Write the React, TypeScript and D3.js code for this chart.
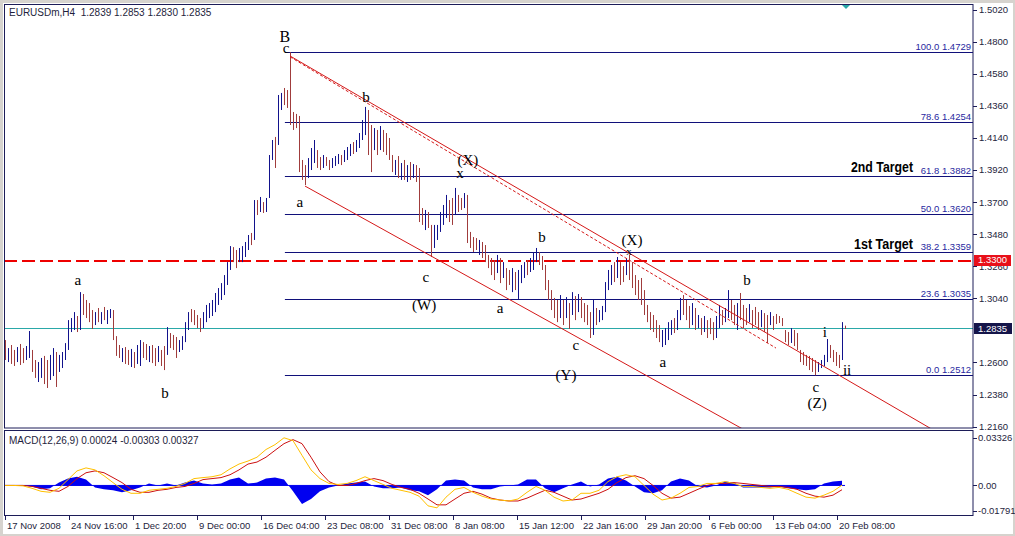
import * as d3 from 'd3'

// EURUSDm H4 bars (one entry per bar, left to right)
const highs = [
  1.2754, 1.2699, 1.2720, 1.2686, 1.2706, 1.2727, 1.2699, 1.2713, 1.2816, 1.2686,
  1.2617, 1.2603, 1.2631, 1.2645, 1.2617, 1.2652, 1.2699, 1.2672, 1.2652, 1.2672,
  1.2733, 1.2891, 1.2905, 1.2946, 1.2919, 1.3083, 1.3070, 1.3029, 1.3008, 1.2960,
  1.2946, 1.2974, 1.2946, 1.2981, 1.2960, 1.2967, 1.2960, 1.2781, 1.2720, 1.2699,
  1.2706, 1.2686, 1.2693, 1.2672, 1.2720, 1.2754, 1.2740, 1.2727, 1.2713, 1.2720,
  1.2699, 1.2713, 1.2686, 1.2713, 1.2843, 1.2802, 1.2789, 1.2775, 1.2754, 1.2781,
  1.2877, 1.2946, 1.2967, 1.2960, 1.2926, 1.2905, 1.2946, 1.2995, 1.3008, 1.3029,
  1.3077, 1.3111, 1.3145, 1.3200, 1.3289, 1.3399, 1.3392, 1.3372, 1.3386, 1.3399,
  1.3427, 1.3475, 1.3489, 1.3715, 1.3715, 1.3736, 1.3701, 1.3729, 1.4024, 1.4127,
  1.4148, 1.4436, 1.4450, 1.4484, 1.4470, 1.4729, 1.4319, 1.4306, 1.4292, 1.3990,
  1.3955, 1.4003, 1.4072, 1.4127, 1.4058, 1.4010, 1.4024, 1.4010, 1.3990, 1.4003,
  1.4017, 1.4031, 1.4024, 1.4058, 1.4079, 1.4100, 1.4113, 1.4127, 1.4175, 1.4264,
  1.4354, 1.4333, 1.4230, 1.4209, 1.4196, 1.4223, 1.4196, 1.4175, 1.4141, 1.4024,
  1.3990, 1.4017, 1.3969, 1.3990, 1.3955, 1.3976, 1.3962, 1.3955, 1.3935, 1.3660,
  1.3647, 1.3633, 1.3544, 1.3544, 1.3544, 1.3633, 1.3681, 1.3750, 1.3715, 1.3729,
  1.3798, 1.3750, 1.3729, 1.3763, 1.3750, 1.3496, 1.3461, 1.3454, 1.3441, 1.3427,
  1.3406, 1.3338, 1.3317, 1.3303, 1.3338, 1.3317, 1.3289, 1.3248, 1.3235, 1.3248,
  1.3221, 1.3235, 1.3269, 1.3289, 1.3303, 1.3317, 1.3358, 1.3386, 1.3358, 1.3331,
  1.3269, 1.3166, 1.3097, 1.3043, 1.3029, 1.3063, 1.3029, 1.3049, 1.3008, 1.3083,
  1.3056, 1.3070, 1.3049, 1.3008, 1.2995, 1.2946, 1.3029, 1.2974, 1.2960, 1.2988,
  1.3152, 1.3235, 1.3269, 1.3289, 1.3324, 1.3289, 1.3262, 1.3317, 1.3338, 1.3289,
  1.3200, 1.3166, 1.3180, 1.3097, 1.2995, 1.2946, 1.2926, 1.2891, 1.2857, 1.2823,
  1.2836, 1.2877, 1.2891, 1.2905, 1.2960, 1.3043, 1.3063, 1.3029, 1.2988, 1.3008,
  1.2974, 1.2926, 1.2905, 1.2919, 1.2891, 1.2905, 1.2877, 1.2919, 1.2995, 1.2960,
  1.2974, 1.3097, 1.3029, 1.2995, 1.3008, 1.3077, 1.2995, 1.2974, 1.3001, 1.2960,
  1.2981, 1.2946, 1.2960, 1.2939, 1.2926, 1.2946, 1.2919, 1.2933, 1.2919, 1.2905,
  1.2823, 1.2809, 1.2836, 1.2823, 1.2802, 1.2686, 1.2672, 1.2652, 1.2645, 1.2631,
  1.2617, 1.2603, 1.2617, 1.2652, 1.2761, 1.2720, 1.2686, 1.2672, 1.2652, 1.2877,
  1.2853,
]

const lows = [
  1.2617, 1.2603, 1.2590, 1.2576, 1.2603, 1.2583, 1.2596, 1.2617, 1.2631, 1.2535,
  1.2494, 1.2466, 1.2494, 1.2452, 1.2425, 1.2480, 1.2507, 1.2432, 1.2535, 1.2562,
  1.2617, 1.2686, 1.2809, 1.2823, 1.2809, 1.2823, 1.2926, 1.2905, 1.2877, 1.2830,
  1.2857, 1.2877, 1.2864, 1.2891, 1.2864, 1.2905, 1.2754, 1.2645, 1.2631, 1.2603,
  1.2590, 1.2583, 1.2569, 1.2562, 1.2590, 1.2576, 1.2631, 1.2617, 1.2603, 1.2596,
  1.2576, 1.2603, 1.2576, 1.2548, 1.2652, 1.2699, 1.2686, 1.2631, 1.2672, 1.2686,
  1.2740, 1.2823, 1.2877, 1.2857, 1.2836, 1.2809, 1.2836, 1.2877, 1.2905, 1.2919,
  1.2946, 1.2995, 1.3029, 1.3063, 1.3132, 1.3235, 1.3289, 1.3248, 1.3289, 1.3289,
  1.3324, 1.3372, 1.3406, 1.3441, 1.3612, 1.3633, 1.3626, 1.3633, 1.3729, 1.3990,
  1.3935, 1.4093, 1.4333, 1.4367, 1.4347, 1.4230, 1.4196, 1.4209, 1.3907, 1.3853,
  1.3818, 1.3866, 1.3921, 1.3969, 1.3935, 1.3921, 1.3935, 1.3949, 1.3921, 1.3935,
  1.3949, 1.3962, 1.3955, 1.3976, 1.3990, 1.4017, 1.4031, 1.4045, 1.4072, 1.4127,
  1.4161, 1.4024, 1.3907, 1.4058, 1.4024, 1.4058, 1.4045, 1.4024, 1.3990, 1.3907,
  1.3887, 1.3866, 1.3853, 1.3853, 1.3839, 1.3853, 1.3866, 1.3839, 1.3564, 1.3544,
  1.3509, 1.3523, 1.3324, 1.3386, 1.3441, 1.3496, 1.3544, 1.3592, 1.3564, 1.3544,
  1.3612, 1.3633, 1.3647, 1.3660, 1.3420, 1.3386, 1.3358, 1.3372, 1.3338, 1.3317,
  1.3289, 1.3248, 1.3200, 1.3166, 1.3214, 1.3145, 1.3180, 1.3097, 1.3132, 1.3083,
  1.3097, 1.3036, 1.3145, 1.3180, 1.3200, 1.3221, 1.3235, 1.3289, 1.3269, 1.3235,
  1.3097, 1.3029, 1.2960, 1.2905, 1.2877, 1.2905, 1.2857, 1.2905, 1.2830, 1.2926,
  1.2891, 1.2946, 1.2905, 1.2877, 1.2857, 1.2768, 1.2789, 1.2857, 1.2877, 1.2891,
  1.2946, 1.3097, 1.3132, 1.3152, 1.3180, 1.3132, 1.3152, 1.3200, 1.3166, 1.3111,
  1.3063, 1.3029, 1.2995, 1.2926, 1.2877, 1.2823, 1.2809, 1.2768, 1.2740, 1.2706,
  1.2720, 1.2754, 1.2789, 1.2802, 1.2823, 1.2891, 1.2926, 1.2891, 1.2836, 1.2857,
  1.2823, 1.2836, 1.2789, 1.2809, 1.2768, 1.2795, 1.2754, 1.2768, 1.2836, 1.2857,
  1.2877, 1.2905, 1.2891, 1.2857, 1.2823, 1.2891, 1.2836, 1.2857, 1.2877, 1.2836,
  1.2857, 1.2823, 1.2843, 1.2809, 1.2734, 1.2857, 1.2823, 1.2864, 1.2871, 1.2850,
  1.2740, 1.2720, 1.2734, 1.2713, 1.2686, 1.2603, 1.2583, 1.2576, 1.2548, 1.2535,
  1.2512, 1.2535, 1.2562, 1.2576, 1.2603, 1.2631, 1.2603, 1.2576, 1.2562, 1.2617,
  1.2830,
]

// u = bullish bar, d = bearish bar
const barDirs =
  'duddudduud' + 'duudduuduu' + 'uuuududddd' + 'ududuudddu' + 'dduduuddud' +
  'dudduddduu' + 'uudddduuuu' + 'uuuuuudduu' + 'uudududuuu' + 'duuddddddd' +
  'duuudduddu' + 'uuduuuduuu' + 'uddududddd' + 'ududududdd' + 'udduuuuudd' +
  'udduddddud' + 'ddddududdu' + 'duuuduuudd' + 'dddddududu' + 'dudddduduu' +
  'uuududdudd' + 'dddddddddu' + 'uuuduudddu' + 'dududdduud' + 'uuddudddud' +
  'dduddudddd' + 'dduddddddd' + 'duuuuddddu' + 'd'

// MACD(12,26,9), one reading every third bar
const macdMain = [
  0, 0, -0.0003, -0.0020, -0.0041, -0.0048, -0.0020, 0.0041, 0.0102, 0.0123,
  0.0109, 0.0068, 0.0020, -0.0027, -0.0055, -0.0055, -0.0034, -0.0027, -0.0020, -0.0007,
  0.0014, 0.0048, 0.0055, 0.0061, 0.0075, 0.0116, 0.0150, 0.0171, 0.0198, 0.0252,
  0.0286, 0.0334, 0.0314, 0.0211, 0.0109, 0.0048, 0.0014, 0.0007, 0.0014, 0.0034,
  0.0061, 0.0034, 0.0007, -0.0020, -0.0034, -0.0048, -0.0075, -0.0143, -0.0157, -0.0082,
  -0.0027, -0.0014, -0.0048, -0.0075, -0.0095, -0.0102, -0.0109, -0.0095, -0.0048, -0.0007,
  -0.0034, -0.0082, -0.0109, -0.0102, -0.0055, -0.0055, -0.0034, 0.0027, 0.0061, 0.0075,
  0.0061, 0, -0.0061, -0.0102, -0.0089, -0.0055, -0.0014, -0.0007, 0.0014, 0.0014,
  0.0027, 0.0014, -0.0007, -0.0007, -0.0014, -0.0020, -0.0014, -0.0027, -0.0055, -0.0082,
  -0.0089, -0.0068, -0.0041, 0.0002,
]
const macdSignal = [
  0, 0, 0, -0.0007, -0.0020, -0.0034, -0.0041, -0.0007, 0.0048, 0.0089,
  0.0102, 0.0089, 0.0055, 0.0020, -0.0027, -0.0048, -0.0048, -0.0034, -0.0027, -0.0014,
  -0.0007, 0.0014, 0.0041, 0.0048, 0.0055, 0.0075, 0.0109, 0.0150, 0.0164, 0.0198,
  0.0246, 0.0293, 0.0321, 0.0293, 0.0198, 0.0095, 0.0027, 0, 0, 0.0014,
  0.0034, 0.0048, 0.0034, 0.0007, -0.0014, -0.0027, -0.0055, -0.0095, -0.0136, -0.0136,
  -0.0095, -0.0055, -0.0041, -0.0061, -0.0089, -0.0102, -0.0109, -0.0109, -0.0089, -0.0061,
  -0.0034, -0.0048, -0.0075, -0.0102, -0.0095, -0.0075, -0.0055, -0.0027, 0.0020, 0.0055,
  0.0068, 0.0048, 0, -0.0055, -0.0089, -0.0082, -0.0055, -0.0027, 0, 0.0014,
  0.0014, 0.0020, 0.0014, 0.0007, 0, -0.0007, -0.0007, -0.0014, -0.0027, -0.0055,
  -0.0075, -0.0082, -0.0068, -0.0030,
]
const macdHist = [
  0, 0, 0, -0.0007, -0.0027, -0.0020, 0.0020, 0.0048, 0.0061, 0.0041,
  -0.0014, -0.0027, -0.0034, -0.0048, -0.0034, -0.0014, 0.0014, 0, 0.0014, 0,
  0.0020, 0.0034, 0.0014, 0.0007, 0.0014, 0.0041, 0.0055, 0.0014, 0.0020, 0.0048,
  0.0055, 0.0041, -0.0041, -0.0130, -0.0095, -0.0041, -0.0014, 0, 0.0014, 0.0020,
  0.0027, -0.0007, -0.0020, -0.0020, -0.0014, -0.0034, -0.0041, -0.0068, -0.0027, 0.0034,
  0.0041, 0.0034, -0.0014, -0.0027, -0.0027, -0.0007, 0, 0.0007, 0.0041, 0.0041,
  -0.0020, -0.0048, -0.0020, 0.0007, 0.0027, -0.0007, 0.0007, 0.0048, 0.0061, 0.0034,
  -0.0007, -0.0048, -0.0055, -0.0034, 0.0027, 0.0048, 0.0034, -0.0007, -0.0014, 0,
  0.0027, 0.0020, -0.0014, -0.0014, -0.0014, -0.0014, -0.0007, -0.0020, -0.0027, -0.0034,
  -0.0027, 0.0014, 0.0027, 0.0033,
]

const priceTicks = [1.502, 1.48, 1.458, 1.436, 1.414, 1.392, 1.37, 1.348, 1.326, 1.304, 1.282, 1.26, 1.238, 1.216]
const macdTicks = [0.03326, 0, -0.01791]
const macdTickText = ['0.03326', '0.00', '-0.01791']
const timeLabels = [
  '17 Nov 2008', '24 Nov 16:00', '1 Dec 20:00', '9 Dec 00:00', '16 Dec 04:00', '23 Dec 08:00',
  '31 Dec 08:00', '8 Jan 08:00', '15 Jan 12:00', '22 Jan 16:00', '29 Jan 20:00', '6 Feb 00:00',
  '13 Feb 04:00', '20 Feb 08:00',
]

const fibPct = ['100.0', '78.6', '61.8', '50.0', '38.2', '23.6', '0.0']
const fibPrice = [1.4729, 1.4254, 1.3882, 1.362, 1.3359, 1.3035, 1.2512]

// [text, bar index, price at baseline, font size]
const waveLabels: [string, number, number, number][] = [
  ['B', 93.3, 1.4800, 16], ['c', 93.7, 1.4722, 15], ['a', 24.3, 1.3132, 15], ['b', 53.3, 1.2356, 15],
  ['a', 98.3, 1.3667, 15], ['b', 120.3, 1.4388, 15], ['(X)', 154.3, 1.3955, 15], ['x', 151.7, 1.3866, 15],
  ['c', 140.3, 1.3152, 15], ['(W)', 139.7, 1.296, 15], ['a', 165, 1.294, 15], ['b', 179, 1.3427, 15],
  ['(X)', 209, 1.3406, 15], ['x', 208, 1.3338, 11], ['c', 190.3, 1.2686, 15], ['(Y)', 187, 1.248, 15],
  ['a', 219.3, 1.2569, 15], ['b', 247.3, 1.3132, 15], ['i', 273.3, 1.2775, 15], ['ii', 280.7, 1.2514, 15],
  ['c', 270.3, 1.2397, 15], ['(Z)', 270.7, 1.2288, 15],
]

// channel anchors: [bar, price]
const upperChannel: [number, number][] = [[95, 1.4704], [208, 1.3351]]
const lowerChannel: [number, number][] = [[100, 1.3811], [142, 1.3331]]
const dottedLine: [number, number][] = [[95, 1.4698], [257, 1.2699]]

const targetText = ['2nd Target', '1st Target']
const targetPrice = [1.3907, 1.3379]
const targetWidth = [62, 59]

const header = 'EURUSDm,H4  1.2839 1.2853 1.2830 1.2835'
const macdHeader = 'MACD(12,26,9) 0.00024 -0.00303 0.00327'
const bid = 1.2835
const alertLevel = 1.33

const sans = "'Liberation Sans', Arial, sans-serif"
const serif = "'Liberation Serif', 'Times New Roman', serif"
const frame = '#1c1c58'
const txt = '#1e1e3c'

export default function App() {
  const x = d3.scaleLinear().domain([0, highs.length - 1]).range([5, 845])
  const y = d3.scaleLinear().domain([1.216, 1.502]).range([426.6, 9.9])
  const ym = d3.scaleLinear().domain([-0.01791, 0.03326]).range([511, 438])
  const xt = d3.scalePoint<string>().domain(timeLabels).range([5, 837])
  const crisp = (v: number) => Math.round(v) + 0.5

  const extend = (pts: [number, number][], toBar: number) => {
    const [[b1, p1], [b2, p2]] = pts
    const p = p1 + ((p2 - p1) * (toBar - b1)) / (b2 - b1)
    return { x1: x(b1), y1: y(p1), x2: x(toBar), y2: y(p) }
  }
  const up = extend(upperChannel, 340)
  const lo = extend(lowerChannel, 340)
  const dl = extend(dottedLine, dottedLine[1][0])

  const histArea = d3
    .area<number>()
    .x((_, k) => x(k * 3))
    .y0(ym(0))
    .y1((d) => ym(d))
  const macdLine = d3
    .line<number>()
    .x((_, k) => x(k * 3))
    .y((d) => ym(d))

  const fibStart = x(93.3)
  // labels hidden behind the bid marker are not drawn
  const visibleTicks = priceTicks.filter((p) => Math.abs(y(p) - y(bid)) > 4)
  const alertY = Math.round(y(alertLevel))

  return (
    <svg
      width={1015}
      height={536}
      style={{ position: 'absolute', left: 0, top: 0, background: '#fff' }}
      fontFamily={sans}
    >
      <defs>
        <clipPath id="plot">
          <rect x={4} y={4} width={969} height={424} />
        </clipPath>
      </defs>
      <rect x={0} y={0} width={1015} height={536} fill="#d6d3ce" />
      <rect x={3} y={3} width={1010} height={531} fill="#fff" />

      {/* horizontal levels */}
      <line x1={4} x2={973} y1={crisp(y(bid))} y2={crisp(y(bid))} stroke="#2aa8a8" />
      {d3.range(4, 973, 18).map((sx) => (
        <rect key={'d' + sx} x={sx} y={alertY - 1} width={Math.min(13, 973 - sx)} height={2} fill="#ee0000" />
      ))}
      {fibPrice.map((p, i) => (
        <g key={'f' + i}>
          <line x1={fibStart} x2={973} y1={crisp(y(p))} y2={crisp(y(p))} stroke="#10107a" />
          <text x={971} y={Math.round(y(p)) - 2} textAnchor="end" fontSize={9.5} fill="#2828a0">
            {fibPct[i]} {p.toFixed(4)}
          </text>
        </g>
      ))}

      {/* bars */}
      <g clipPath="url(#plot)">
        {highs.map((h, i) => (
          <line
            key={'b' + i}
            x1={crisp(x(i))}
            x2={crisp(x(i))}
            y1={y(h)}
            y2={y(lows[i])}
            stroke={barDirs[i] === 'u' ? '#12128c' : '#a03c3c'}
            strokeWidth={1}
          />
        ))}
        <line {...up} stroke="#d41818" strokeWidth={1} />
        <line {...lo} stroke="#d41818" strokeWidth={1} />
        <line {...dl} stroke="#d41818" strokeWidth={1} strokeDasharray="3,2" />
      </g>

      {/* annotations */}
      {waveLabels.map(([t, b, p, s], i) => (
        <text key={'w' + i} x={x(b)} y={y(p)} textAnchor="middle" fontFamily={serif} fontSize={s} fill="#000">
          {t}
        </text>
      ))}
      {targetText.map((t, i) => (
        <text
          key={'t' + i}
          x={913 - targetWidth[i]}
          y={y(targetPrice[i])}
          fontWeight="bold"
          fontSize={14.5}
          textLength={targetWidth[i]}
          lengthAdjust="spacingAndGlyphs"
          fill="#000"
        >
          {t}
        </text>
      ))}

      <text x={9} y={16} fontSize={10} fill={txt}>
        {header.replace('  ', '\u00a0\u00a0')}
      </text>
      <path d="M842,5 L850,5 L846,9 Z" fill="#2aa8a8" />

      {/* main panel frame and price axis */}
      <rect x={4.5} y={4.5} width={968.5} height={423.5} fill="none" stroke={frame} />
      {visibleTicks.map((p) => (
        <g key={'p' + p}>
          <line x1={973} x2={977} y1={crisp(y(p))} y2={crisp(y(p))} stroke={frame} />
          <text x={979} y={y(p)} dy="0.35em" fontSize={9.5} fill={txt}>
            {p.toFixed(4)}
          </text>
        </g>
      ))}
      <rect x={974} y={alertY - 6} width={37} height={11} fill="#e8101a" />
      <text x={978} y={y(alertLevel) - 0.5} dy="0.35em" fontSize={9.5} fill="#fff">
        {alertLevel.toFixed(4)}
      </text>
      <rect x={974} y={Math.round(y(bid)) - 5} width={38} height={11} fill="#15154a" />
      <text x={978} y={y(bid) + 0.5} dy="0.35em" fontSize={9.5} fill="#fff">
        {bid.toFixed(4)}
      </text>

      {/* MACD panel */}
      <rect x={4.5} y={430.5} width={968.5} height={85} fill="none" stroke={frame} />
      <path d={histArea(macdHist) ?? ''} fill="#0000f0" />
      <line x1={x(0)} x2={x(highs.length - 1)} y1={ym(0)} y2={ym(0)} stroke="#0000f0" />
      <path d={macdLine(macdSignal) ?? ''} fill="none" stroke="#cc1010" strokeWidth={1} />
      <path d={macdLine(macdMain) ?? ''} fill="none" stroke="#ffc000" strokeWidth={1} />
      <text x={9} y={444} fontSize={10} fill={txt}>
        {macdHeader}
      </text>
      {macdTicks.map((v, i) => (
        <g key={'m' + i}>
          <line x1={973} x2={977} y1={crisp(ym(v))} y2={crisp(ym(v))} stroke={frame} />
          <text x={978} y={ym(v)} dy="0.35em" fontSize={9.5} fill={txt}>
            {macdTickText[i]}
          </text>
        </g>
      ))}

      {/* time axis */}
      {timeLabels.map((t) => (
        <g key={t}>
          <line x1={xt(t)! + 0.5} x2={xt(t)! + 0.5} y1={516} y2={520} stroke={frame} />
          <text x={xt(t)! + 2} y={529} fontSize={9.5} fill={txt}>
            {t}
          </text>
        </g>
      ))}
    </svg>
  )
}
